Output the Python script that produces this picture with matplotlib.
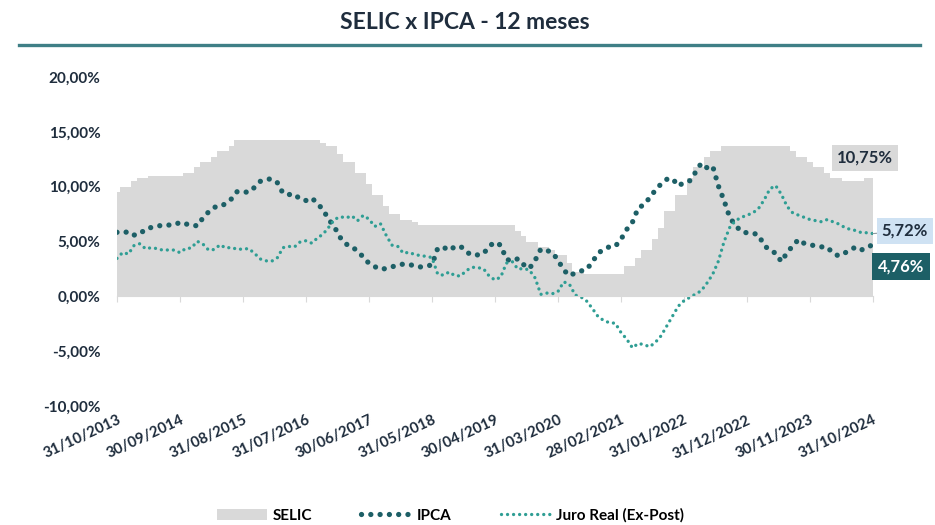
import numpy as np
import matplotlib
matplotlib.use('Agg')
import matplotlib.pyplot as plt
from matplotlib.patches import Patch
from matplotlib.lines import Line2D

plt.rcParams['font.family'] = ['Lato', 'DejaVu Sans']

#==============================================================================
# data: monthly, 31/10/2013 .. 31/10/2024 (% a.a. / 12 meses)
tick_labels = ['31/10/2013', '30/09/2014', '31/08/2015', '31/07/2016',
               '30/06/2017', '31/05/2018', '30/04/2019', '31/03/2020',
               '28/02/2021', '31/01/2022', '31/12/2022', '30/11/2023',
               '31/10/2024']

selic = [9.50, 10.00, 10.00,
         10.50, 10.75, 10.75, 11.00, 11.00, 11.00, 11.00, 11.00, 11.00, 11.25, 11.25, 11.75,
         12.25, 12.25, 12.75, 13.25, 13.25, 13.75, 14.25, 14.25, 14.25, 14.25, 14.25, 14.25,
         14.25, 14.25, 14.25, 14.25, 14.25, 14.25, 14.25, 14.25, 14.25, 14.00, 13.75, 13.75,
         13.00, 12.25, 12.25, 11.25, 11.25, 10.25, 9.25, 9.25, 8.25, 7.50, 7.50, 7.00,
         7.00, 6.75, 6.50, 6.50, 6.50, 6.50, 6.50, 6.50, 6.50, 6.50, 6.50, 6.50,
         6.50, 6.50, 6.50, 6.50, 6.50, 6.50, 6.50, 6.00, 5.50, 5.00, 5.00, 4.50,
         4.50, 4.25, 3.75, 3.75, 3.00, 2.25, 2.25, 2.00, 2.00, 2.00, 2.00, 2.00,
         2.00, 2.00, 2.75, 2.75, 3.50, 4.25, 4.25, 5.25, 6.25, 7.75, 7.75, 9.25,
         9.25, 10.75, 11.75, 11.75, 12.75, 13.25, 13.25, 13.75, 13.75, 13.75, 13.75, 13.75,
         13.75, 13.75, 13.75, 13.75, 13.75, 13.75, 13.75, 13.25, 12.75, 12.75, 12.25, 11.75,
         11.75, 11.25, 10.75, 10.75, 10.50, 10.50, 10.50, 10.50, 10.75, 10.75]

ipca = [5.84, 5.77, 5.91,
        5.59, 5.68, 6.15, 6.28, 6.37, 6.52, 6.50, 6.51, 6.75, 6.59, 6.56, 6.41,
        7.14, 7.70, 8.13, 8.17, 8.47, 8.89, 9.56, 9.53, 9.49, 9.93, 10.48, 10.67,
        10.71, 10.36, 9.39, 9.28, 9.32, 8.84, 8.74, 8.97, 8.48, 7.87, 6.99, 6.29,
        5.35, 4.76, 4.57, 4.08, 3.60, 3.00, 2.71, 2.46, 2.54, 2.70, 2.80, 2.95,
        2.86, 2.84, 2.68, 2.76, 2.86, 4.39, 4.48, 4.19, 4.53, 4.56, 4.05, 3.75,
        3.78, 3.89, 4.58, 4.94, 4.66, 3.37, 3.22, 3.43, 2.89, 2.54, 3.27, 4.31,
        4.19, 4.01, 3.30, 2.40, 1.88, 2.13, 2.31, 2.44, 3.14, 3.92, 4.31, 4.52,
        4.56, 5.20, 6.10, 6.76, 8.06, 8.35, 8.99, 9.68, 10.25, 10.67, 10.74, 10.06,
        10.38, 10.54, 11.30, 12.13, 11.73, 11.89, 10.07, 8.73, 7.17, 6.47, 5.90, 5.79,
        5.77, 5.60, 4.65, 4.18, 3.94, 3.16, 3.99, 4.61, 5.19, 4.82, 4.68, 4.62,
        4.51, 4.50, 3.93, 3.69, 3.93, 4.23, 4.50, 4.24, 4.42, 4.76]

juro = [3.46, 4.00, 3.86,
        4.65, 4.80, 4.33, 4.44, 4.35, 4.21, 4.23, 4.22, 3.98, 4.37, 4.40, 5.02,
        4.77, 4.22, 4.27, 4.70, 4.41, 4.46, 4.28, 4.31, 4.35, 3.93, 3.41, 3.24,
        3.20, 3.52, 4.44, 4.55, 4.51, 4.97, 5.07, 4.85, 5.32, 5.68, 6.32, 7.02,
        7.26, 7.15, 7.34, 6.89, 7.38, 7.04, 6.37, 6.63, 5.57, 4.67, 4.57, 3.93,
        4.02, 3.80, 3.72, 3.64, 3.54, 2.02, 1.93, 2.22, 1.88, 1.86, 2.35, 2.65,
        2.62, 2.51, 1.84, 1.49, 1.76, 3.03, 3.18, 2.48, 2.54, 2.40, 1.68, 0.18,
        0.30, 0.23, 0.44, 1.32, 1.10, 0.12, -0.06, -0.43, -1.11, -1.85, -2.21, -2.41,
        -2.45, -3.30, -3.90, -4.70, -4.30, -4.40, -4.60, -4.20, -3.60, -2.70, -1.80, -0.90,
        -0.40, -0.10, 0.20, 0.50, 1.20, 2.00, 3.20, 5.00, 6.30, 6.90, 7.20, 7.40,
        7.60, 8.00, 8.80, 9.80, 10.10, 9.30, 8.20, 7.60, 7.40, 7.20, 7.00, 6.90,
        6.80, 7.00, 6.80, 6.60, 6.30, 6.10, 6.00, 5.80, 5.80, 5.72]

yticks = [-10, -5, 0, 5, 10, 15, 20]

#==============================================================================
navy = '#1f2d3d'
gray = '#d9d9d9'
c_ipca = '#1d5f66'
c_juro = '#2f9e94'

x = np.arange(len(selic))
tick_pos = np.arange(0, len(selic), 11)

fig = plt.figure(figsize=(9.35, 5.25), dpi=100)
ax = fig.add_axes([0.1251, 0.2267, 0.8086, 0.6266])

ax.fill_between(x, selic, 0, step='mid', color=gray, lw=0)
l_ipca, = ax.plot(x, ipca, color=c_ipca, lw=3.8, ls=(0, (0.01, 1.75)),
                  dash_capstyle='round', label='IPCA')
l_juro, = ax.plot(x, juro, color=c_juro, lw=2.4, ls=(0, (0.01, 1.8)),
                  dash_capstyle='round', label='Juro Real (Ex-Post)')

# axes
ax.set_xlim(0, len(selic) - 1)
ax.set_ylim(-10, 20)
ax.set_yticks(yticks)
ax.set_yticklabels([('%.2f%%' % v).replace('.', ',') for v in yticks])
ax.set_xticks(tick_pos)
ax.set_xticklabels(tick_labels)
for s in ['top', 'right', 'left']:
    ax.spines[s].set_visible(False)
ax.spines['bottom'].set_position(('data', 0))
ax.spines['bottom'].set_color(gray)
ax.tick_params(axis='y', length=0, pad=12)
ax.tick_params(axis='x', length=4, color=gray, pad=80)
plt.setp(ax.get_yticklabels(), fontsize=11, fontweight='bold', color=navy)
plt.setp(ax.get_xticklabels(), rotation=25, ha='right', rotation_mode='anchor',
         fontsize=10.8, fontweight='bold', color=navy)

# end labels
fmt = lambda v: ('%.2f%%' % v).replace('.', ',')
ax.annotate(fmt(selic[-1]), xy=(x[-1], selic[-1]), xytext=(-6, 15),
            textcoords='offset points', ha='center', va='center',
            fontsize=12, fontweight='bold', color=navy,
            bbox=dict(boxstyle='square,pad=0.3', fc=gray, ec='none'))
ax.annotate(fmt(juro[-1]), xy=(x[-1], juro[-1]), xytext=(23, 2),
            textcoords='offset points', ha='center', va='center',
            fontsize=12, fontweight='bold', color=navy,
            bbox=dict(boxstyle='square,pad=0.3', fc='#cfe2f3', ec='none'),
            arrowprops=dict(arrowstyle='-', color='#8a9aa0', lw=0.8,
                            shrinkA=0, shrinkB=0))
ax.annotate(fmt(ipca[-1]), xy=(x[-1], ipca[-1]), xytext=(20, -16),
            textcoords='offset points', ha='center', va='center',
            fontsize=12, fontweight='bold', color='white',
            bbox=dict(boxstyle='square,pad=0.35', fc=c_ipca, ec='none'))

# title and rule
fig.text(0.497, 0.958, 'SELIC x IPCA - 12 meses', ha='center', va='center',
         fontsize=16.5, fontweight='bold', color=navy)
fig.add_artist(Line2D([0.02, 0.984], [0.914, 0.914], transform=fig.transFigure,
                      color='#3f7f86', lw=2.4))

# legend
handles = [Patch(facecolor=gray, edgecolor='none', label='SELIC'), l_ipca, l_juro]
fig.legend(handles=handles, loc='lower center', bbox_to_anchor=(0.482, -0.022),
           ncol=3, frameon=False, handlelength=3.3, handletextpad=0.35,
           columnspacing=3.2, prop=dict(weight='bold', size=11))

fig.savefig('out.png', dpi=100)
